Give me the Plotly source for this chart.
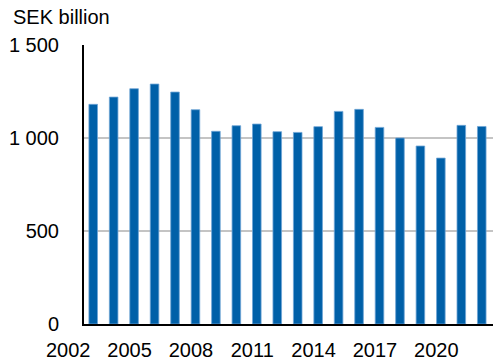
import plotly.graph_objects as go

years = list(range(2002, 2022))
values = [1181, 1220, 1265, 1290, 1247, 1152, 1036, 1066, 1075, 1034,
          1030, 1061, 1143, 1154, 1057, 1000, 957, 892, 1068, 1062]
x_tick_vals = [2002, 2005, 2008, 2011, 2014, 2017, 2020]
x_tick_text = [str(v) for v in x_tick_vals]
y_tick_vals = [0, 500, 1000, 1500]
y_tick_text = ["0", "500", "1 000", "1 500"]
unit_label = "SEK billion"

FONT = "Liberation Sans, Arial, Helvetica, sans-serif"

fig = go.Figure()
fig.add_trace(go.Bar(
    x=years, y=values, width=0.42,
    marker=dict(color="#0060a8", line=dict(color="#6fa5d6", width=0.8)),
))

fig.update_layout(
    width=493, height=363,
    margin=dict(l=84, r=0, t=45, b=39, autoexpand=False),
    paper_bgcolor="white", plot_bgcolor="white",
    showlegend=False,
    font=dict(family=FONT, size=20, color="black"),
    xaxis=dict(
        range=[2001.55, 2021.55], automargin=False,
        tickvals=x_tick_vals, ticktext=x_tick_text,
        ticks="outside", ticklen=7, tickcolor="rgba(0,0,0,0)",
        ticklabelshift=-25,
        showgrid=False, zeroline=False,
        showline=True, linecolor="black", linewidth=2,
        tickfont=dict(family=FONT, size=20),
    ),
    yaxis=dict(
        range=[0, 1500], automargin=False,
        tickvals=y_tick_vals, ticktext=y_tick_text,
        ticks="outside", ticklen=19, tickcolor="rgba(0,0,0,0)",
        showgrid=True, gridcolor="#c4c4c4", gridwidth=1.5,
        zeroline=False,
        showline=True, linecolor="black", linewidth=2,
        tickfont=dict(family=FONT, size=20),
    ),
    annotations=[dict(
        text=unit_label, xref="paper", yref="paper",
        x=-84/409, y=1 + 28/279, xanchor="left", yanchor="middle",
        xshift=11, showarrow=False,
        font=dict(family=FONT, size=20, color="black"),
    )],
)

fig.write_html("out.html", config={"displayModeBar": False},
               post_script="document.body.style.margin='0';")
